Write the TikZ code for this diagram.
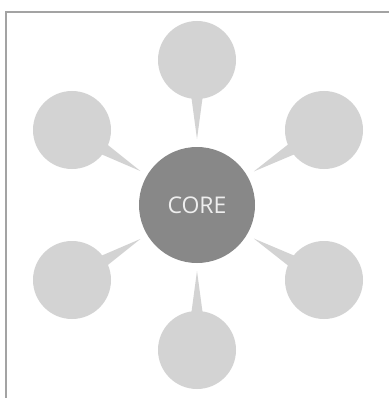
\documentclass[tikz,border=0pt]{standalone}
\usepackage{fontspec}
\setmainfont{Open Sans}
\usetikzlibrary{calc}
\definecolor{outerfill}{HTML}{D3D3D3}
\definecolor{corefill}{HTML}{888888}
\definecolor{coretext}{HTML}{EEEEEE}
\definecolor{framec}{HTML}{A3A3A3}
\begin{document}
\begin{tikzpicture}[x=1pt,y=-1pt,
  outerc/.style={circle,fill=outerfill,minimum size=78pt,inner sep=0pt},
  corenode/.style={circle,fill=corefill,minimum size=116pt,inner sep=0pt,text=coretext,font=\fontsize{23}{26}\selectfont},
  wedge/.style={fill=outerfill}]
\useasboundingbox (0,0) rectangle (388,398);
\fill[white] (0,0) rectangle (388,398);
\draw[framec,line width=2pt] (6,399) -- (6,12) -- (389,12);
\node[corenode] (core) at (197,205) {CORE};
\node[outerc] (o1) at (197,60) {};
\node[outerc] (o2) at (324,130) {};
\node[outerc] (o3) at (324,280) {};
\node[outerc] (o4) at (197,350) {};
\node[outerc] (o5) at (72,280) {};
\node[outerc] (o6) at (72,130) {};
\foreach \o in {o1,o2,o3,o4,o5,o6}{
  \coordinate (tip) at ($(core.center)!66pt!(\o.center)$);
  \coordinate (base) at ($(core.center)!118pt!(\o.center)$);
  \fill[wedge] (tip) -- ($(base)!7pt!90:(\o.center)$) -- ($(base)!7pt!-90:(\o.center)$) -- cycle;
}
\end{tikzpicture}
\end{document}
